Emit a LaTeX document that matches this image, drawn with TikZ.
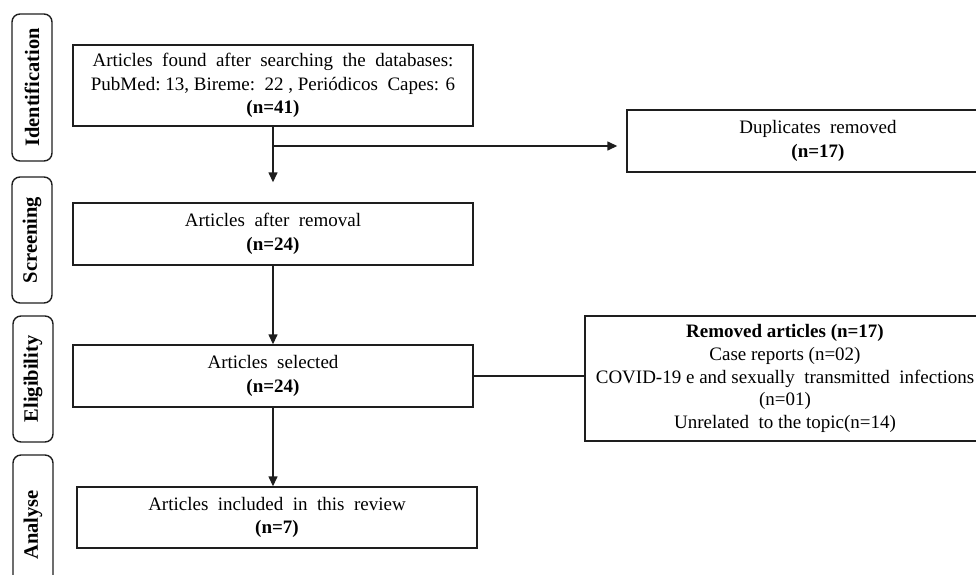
\documentclass[tikz,border=0pt]{standalone}
\usepackage{fontspec}
\setmainfont{Liberation Serif}
\usepackage{tikz}
\usetikzlibrary{arrows.meta,positioning}
\definecolor{ink}{RGB}{30, 30, 30}
\tikzstyle{stagebox} = [
    rectangle,
    rounded corners=8pt,
    draw=ink,
    line width=1.4pt,
    rotate=90,
    minimum height=40pt,
    inner sep=0pt,
    font=\fontsize{20.5}{22}\selectfont\bfseries
]
\tikzstyle{flowbox} = [
    rectangle,
    draw=ink,
    line width=1.4pt,
    minimum width=400pt,
    minimum height=62pt,
    align=center,
    inner sep=0pt,
    font=\fontsize{19}{23.5}\selectfont
]
\tikzstyle{arrow} = [
    line width=1.4pt,
    -{Triangle[width=9pt,length=10pt]},
    draw=ink
]
\tikzstyle{line} = [
    line width=1.4pt,
    draw=ink
]

\begin{document}
\begin{tikzpicture}[x=1pt,y=-1pt]
    \useasboundingbox (0,0) rectangle (976,574);
    % stages on the left
    \node[stagebox, minimum width=147pt] (ident) at (32,87.5) {Identification};
    \node[stagebox, minimum width=126pt] (screen) at (32,240) {Screening};
    \node[stagebox, minimum width=126pt] (elig) at (33,379) {Eligibility};
    \node[stagebox, minimum width=140pt] (analyse) at (33,525) {Analyse};
    % main column
    \node[flowbox, minimum height=81pt] (found) at (273,85.5)
        {Articles\ \ found\ \ after\ \ searching\ \ the\ \ databases:\\
         PubMed:\ 13, Bireme:\ \ 22 , Periódicos\ \ Capes: 6\\
         \textbf{(n=41)}};
    \node[flowbox] (removal) at (273,234)
        {Articles\ \ after\ \ removal\\ \textbf{(n=24)}};
    \node[flowbox] (selected) at (273,376)
        {Articles\ \ selected\\ \textbf{(n=24)}};
    \node[flowbox, minimum height=61pt] (included) at (277,517.5)
        {Articles\ \ included\ \ in\ \ this\ \ review\\ \textbf{(n=7)}};
    % excluded column
    \node[flowbox, minimum width=382pt] (dupl) at (818,141)
        {Duplicates\ \ removed\\ \textbf{(n=17)}};
    \node[flowbox, minimum height=125pt, font=\fontsize{19}{22.7}\selectfont] (excl) at (785,378.5)
        {\textbf{Removed articles (n=17)}\\
         Case reports\ (n=02)\\
         COVID-19 e and sexually\ \ transmitted\ \ infections\\
         (n=01)\\
         Unrelated\ \ to the topic(n=14)};
    % connectors
    \coordinate (split) at (273,146);
    \draw[arrow, shorten >=20pt] (found.south) -- (removal.north);
    \draw[arrow, shorten >=9pt] (split) -- (split -| dupl.west);
    \draw[arrow] (removal.south) -- (selected.north);
    \draw[line] (selected.east) -- (selected.east -| excl.west);
    \draw[arrow] (selected.south) -- (selected.south |- included.north);
\end{tikzpicture}
\end{document}
